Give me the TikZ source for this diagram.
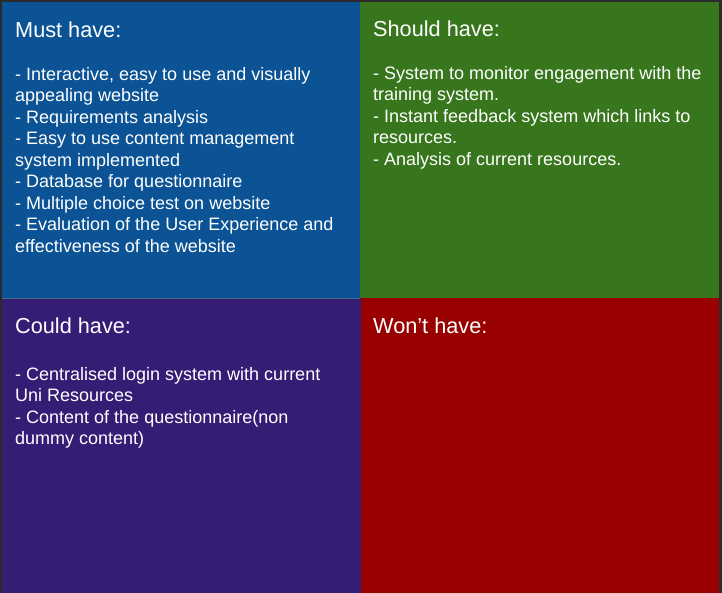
\documentclass[tikz,border=0pt]{standalone}
\usepackage{fontspec}
\setmainfont{Liberation Sans}
\definecolor{frame}{HTML}{2B2B2B}
\definecolor{mustc}{HTML}{0B5394}
\definecolor{shouldc}{HTML}{38761D}
\definecolor{couldc}{HTML}{351C75}
\definecolor{wontc}{HTML}{990000}
\definecolor{divc}{HTML}{4A6A8A}
\begin{document}
\begin{tikzpicture}[x=1pt,y=-1pt,
  quad/.style={draw=none,inner sep=0,outer sep=0,anchor=north west},
  head/.style={text=white,anchor=base west,inner sep=0,font=\fontsize{21.7}{26}\selectfont},
  body/.style={text=white,anchor=base west,inner sep=0,align=left,font=\fontsize{18}{21.5}\selectfont}]
\fill[frame] (0,0) rectangle (722,593);
\useasboundingbox (0,0) rectangle (722,593);
\node[quad,fill=mustc,minimum width=358pt,minimum height=296pt] (must) at (2,2) {};
\node[quad,fill=shouldc,minimum width=359pt,minimum height=296pt] (should) at (360,2) {};
\node[quad,fill=couldc,minimum width=359pt,minimum height=295pt] (could) at (2,298) {};
\node[quad,fill=wontc,minimum width=358pt,minimum height=295pt] (wont) at (361,298) {};
\draw[divc,line width=0.8pt] (must.south west) -- (must.south east);

% base anchor = baseline of the last line
\node[head] (musth) at (15,37.5) {Must have:};
\node[body] (mustb) at (15,252.5) {- Interactive, easy to use and visually\\appealing website\\- Requirements analysis\\- Easy to use content management\\system implemented\\- Database for questionnaire\\- Multiple choice test on website\\- Evaluation of the User Experience and\\effectiveness of the website};

\node[head] (shouldh) at (373,37) {Should have:};
\node[body] (shouldb) at (373,165.5) {- System to monitor engagement with the\\training system.\\- Instant feedback system which links to\\resources.\\- Analysis of current resources.};

\node[head] (couldh) at (15,333) {Could have:};
\node[body] (couldb) at (15,444.5) {- Centralised login system with current\\Uni Resources\\- Content of the questionnaire(non\\dummy content)};

\node[head] (wonth) at (373,333) {Won’t have:};
\end{tikzpicture}
\end{document}
